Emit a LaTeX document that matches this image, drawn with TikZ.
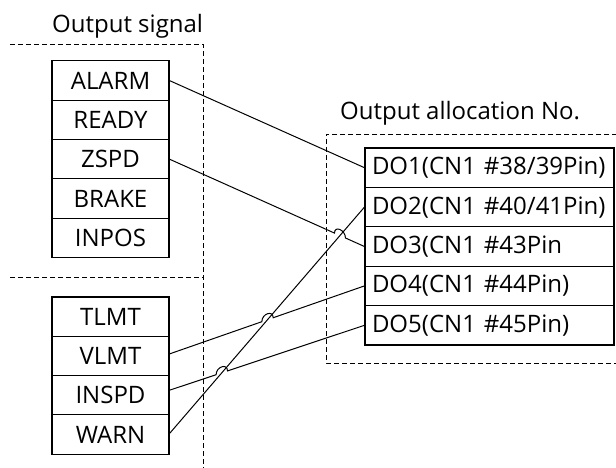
\documentclass[tikz,border=0pt]{standalone}
\usepackage{fontspec}
\setmainfont{Open Sans}
\usetikzlibrary{calc,intersections}
\newcommand\myfont{\fontsize{24pt}{29pt}\selectfont}
\begin{document}
\begin{tikzpicture}[x=1pt,y=-1pt,
  sigbox/.style={draw, line width=1.1pt, minimum width=117pt, minimum height=39.3pt, inner sep=0pt, font=\myfont},
  dobox/.style={draw, line width=1.1pt, minimum width=249pt, minimum height=39.4pt, inner xsep=7pt, inner ysep=0pt, text width=235pt, align=left, font=\myfont},
  frame/.style={line width=0.9pt, dash pattern=on 5pt off 3pt},
  wire/.style={line width=1pt},
  title/.style={font=\myfont, inner sep=0pt, anchor=base west}]
\useasboundingbox (0,0) rectangle (616,468);
% dashed frames
\draw[frame] (10,44) coordinate (f1) -- (203,44) coordinate (f2) -- (203,468) coordinate (f3);
\draw[frame] (10,277) coordinate (f4) -- (203,277) coordinate (f5);
\draw[frame] (617,134) coordinate (g1) -- (326,134) coordinate (g2) -- (326,363) coordinate (g3) -- (617,363) coordinate (g4);
% titles
\node[title] (t1) at (52,33) {Output signal};
\node[title] (t2) at (340,120) {Output allocation No.};
% signal boxes
\node[sigbox] (alarm) at (110.5,80.6) {ALARM};
\node[sigbox] (ready) at (110.5,119.9) {READY};
\node[sigbox] (zspd)  at (110.5,159.2) {ZSPD};
\node[sigbox] (brake) at (110.5,198.5) {BRAKE};
\node[sigbox] (inpos) at (110.5,237.8) {INPOS};
\node[sigbox] (tlmt)  at (110.5,316.6) {TLMT};
\node[sigbox] (vlmt)  at (110.5,355.9) {VLMT};
\node[sigbox] (inspd) at (110.5,395.2) {INSPD};
\node[sigbox] (warn)  at (110.5,434.5) {WARN};
% output boxes
\node[dobox] (do1) at (489.5,167.7) {DO1(CN1 \#38/39Pin)};
\node[dobox] (do2) at (489.5,207.1) {DO2(CN1 \#40/41Pin)};
\node[dobox] (do3) at (489.5,246.5) {DO3(CN1 \#43Pin};
\node[dobox] (do4) at (489.5,285.9) {DO4(CN1 \#44Pin)};
\node[dobox] (do5) at (489.5,325.3) {DO5(CN1 \#45Pin)};
% wires
\coordinate (ws) at ($(warn.east)+(0,-1)$);
\coordinate (vs) at ($(vlmt.east)+(0,-2)$);
\coordinate (is) at ($(inspd.east)+(0,-5)$);
\coordinate (zs) at (zspd.east);
\path[name path=pw] (ws) -- (do2.west);
\path[name path=pz] (zs) -- (do3.west);
\path[name path=pv] (vs) -- (do4.west);
\path[name path=pi] (is) -- (do5.west);
\path[name intersections={of=pw and pz, by=xz}];
\path[name intersections={of=pw and pv, by=xv}];
\path[name intersections={of=pw and pi, by=xi}];
\draw[wire] (alarm.east) -- (do1.west);
\draw[wire] (ws) -- (do2.west);
\draw[wire] (zs) -- ($(xz)!6pt!(zs)$) coordinate (z1)
  .. controls ($(z1)+(0,-8)$) and ($($(xz)!6pt!(do3.west)$)+(0,-8)$) .. ($(xz)!6pt!(do3.west)$) -- (do3.west);
\draw[wire] (vs) -- ($(xv)!6pt!(vs)$) coordinate (v1)
  .. controls ($(v1)+(0,-8)$) and ($($(xv)!6pt!(do4.west)$)+(0,-8)$) .. ($(xv)!6pt!(do4.west)$) -- (do4.west);
\draw[wire] (is) -- ($(xi)!6pt!(is)$) coordinate (i1)
  .. controls ($(i1)+(0,-8)$) and ($($(xi)!6pt!(do5.west)$)+(0,-8)$) .. ($(xi)!6pt!(do5.west)$) -- (do5.west);
\end{tikzpicture}
\end{document}
